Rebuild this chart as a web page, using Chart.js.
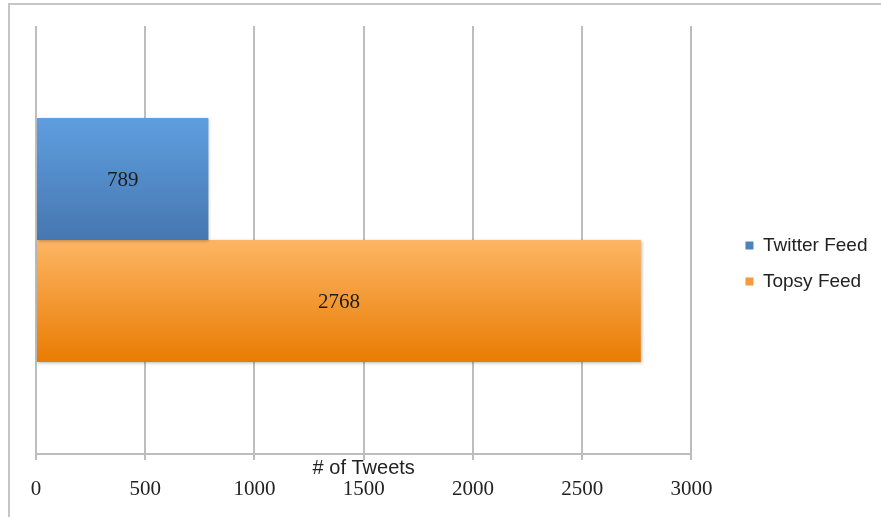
<!DOCTYPE html>
<html><head><meta charset="utf-8">
<script src="https://cdn.jsdelivr.net/npm/chart.js@4"></script>
<style>
html,body{margin:0;padding:0;background:#fff;overflow:hidden}
#wrap{position:relative;width:881px;height:517px}
#frame{position:absolute;left:8px;top:3px;width:900px;height:600px;border-left:2px solid #c6c6c6;border-top:2px solid #c6c6c6;box-sizing:border-box}
canvas{position:absolute;left:0;top:0}
</style></head><body>
<div id="wrap"><div id="frame"></div><canvas id="c" width="881" height="517"></canvas></div>
<script>
const categories = [''];
const seriesNames = ['Twitter Feed', 'Topsy Feed'];
const twitterValues = [789];
const topsyValues = [2768];
const xTicks = [0, 500, 1000, 1500, 2000, 2500, 3000];
const axisTitle = '# of Tweets';

const CAT = 0.57;
const gradStops = [['rgb(95,158,224)', 'rgb(70,119,176)'], ['rgb(253,181,100)', 'rgb(233,124,2)']];
const legendColors = ['#4f81bd', '#f59a3c'];

function barGradient(ctx) {
  const chart = ctx.chart, ys = chart.scales.y, ds = ctx.datasetIndex;
  const stops = gradStops[ds];
  if (!ys || !chart.chartArea || ctx.type !== 'data') return stops[1];
  const n = chart.data.datasets.length;
  const band = (ys.bottom - ys.top) / chart.data.labels.length;
  const center = ys.getPixelForValue(ctx.dataIndex);
  const th = band * CAT / n;
  const y0 = center - band * CAT / 2 + ds * th;
  const g = chart.ctx.createLinearGradient(0, y0, 0, y0 + th);
  g.addColorStop(0, stops[0]);
  g.addColorStop(1, stops[1]);
  return g;
}

const shadowPlugin = {
  id: 'barShadow',
  beforeDatasetsDraw(chart) {
    const c = chart.ctx; c.save();
    c.shadowColor = 'rgba(0,0,0,0.28)'; c.shadowBlur = 3; c.shadowOffsetX = 1; c.shadowOffsetY = 1;
  },
  afterDatasetsDraw(chart) { chart.ctx.restore(); }
};
const valueLabels = {
  id: 'valueLabels',
  afterDatasetsDraw(chart) {
    const c = chart.ctx;
    c.save();
    c.font = '21px "Liberation Serif", "Times New Roman", serif';
    c.fillStyle = '#1c1c1c';
    c.textAlign = 'center'; c.textBaseline = 'middle';
    chart.data.datasets.forEach((d, di) => {
      chart.getDatasetMeta(di).data.forEach((el, i) => {
        const p = el.getCenterPoint();
        c.fillText(String(d.data[i]), p.x, p.y + 1);
      });
    });
    c.restore();
  }
};

const gridColor = '#bdbdbd';
new Chart(document.getElementById('c'), {
  type: 'bar',
  data: {
    labels: categories,
    datasets: [
      { label: seriesNames[0], data: twitterValues, backgroundColor: barGradient, borderWidth: 0, xAxisID: 'x' },
      { label: seriesNames[1], data: topsyValues, backgroundColor: barGradient, borderWidth: 0, xAxisID: 'x' }
    ]
  },
  options: {
    indexAxis: 'y',
    responsive: false,
    devicePixelRatio: 1,
    animation: false,
    categoryPercentage: CAT,
    barPercentage: 1,
    layout: { padding: { left: 36, top: 26, right: 3.5, bottom: 16 } },
    plugins: {
      tooltip: { enabled: false },
      legend: {
        position: 'right',
        labels: {
          boxWidth: 8, boxHeight: 8, padding: 17, color: '#222',
          font: { family: '"Liberation Sans", Arial, sans-serif', size: 19 },
          generateLabels(chart) {
            const items = Chart.defaults.plugins.legend.labels.generateLabels(chart);
            items.forEach((it, i) => { it.fillStyle = legendColors[i]; it.strokeStyle = legendColors[i]; it.lineWidth = 0; });
            return items;
          }
        }
      }
    },
    scales: {
      y: { display: false },
      x: {
        type: 'linear', position: 'bottom', weight: 0,
        min: xTicks[0], max: xTicks[xTicks.length - 1],
        ticks: { display: false, stepSize: xTicks[1] - xTicks[0] },
        grid: { color: gridColor, lineWidth: 2, drawTicks: true, tickLength: 6, tickColor: gridColor },
        border: { display: true, color: gridColor, width: 2 },
        title: { display: true, text: axisTitle, color: '#222',
          font: { family: '"Liberation Sans", Arial, sans-serif', size: 20, lineHeight: 1 },
          padding: { top: -2, bottom: 0 } }
      },
      x2: {
        type: 'linear', position: 'bottom', weight: 1,
        min: xTicks[0], max: xTicks[xTicks.length - 1],
        grid: { display: false, drawTicks: false },
        border: { display: false },
        ticks: { stepSize: xTicks[1] - xTicks[0], padding: 1, color: '#222', maxRotation: 0,
          callback: (v) => String(v),
          font: { family: '"Liberation Serif", "Times New Roman", serif', size: 21, lineHeight: 1 } }
      },
      pad: {
        type: 'linear', position: 'right', display: true,
        grid: { display: false, drawTicks: false }, border: { display: false },
        ticks: { display: false },
        afterFit(s) { s.width = 37; }
      }
    }
  },
  plugins: [shadowPlugin, valueLabels]
});
</script>
</body></html>
